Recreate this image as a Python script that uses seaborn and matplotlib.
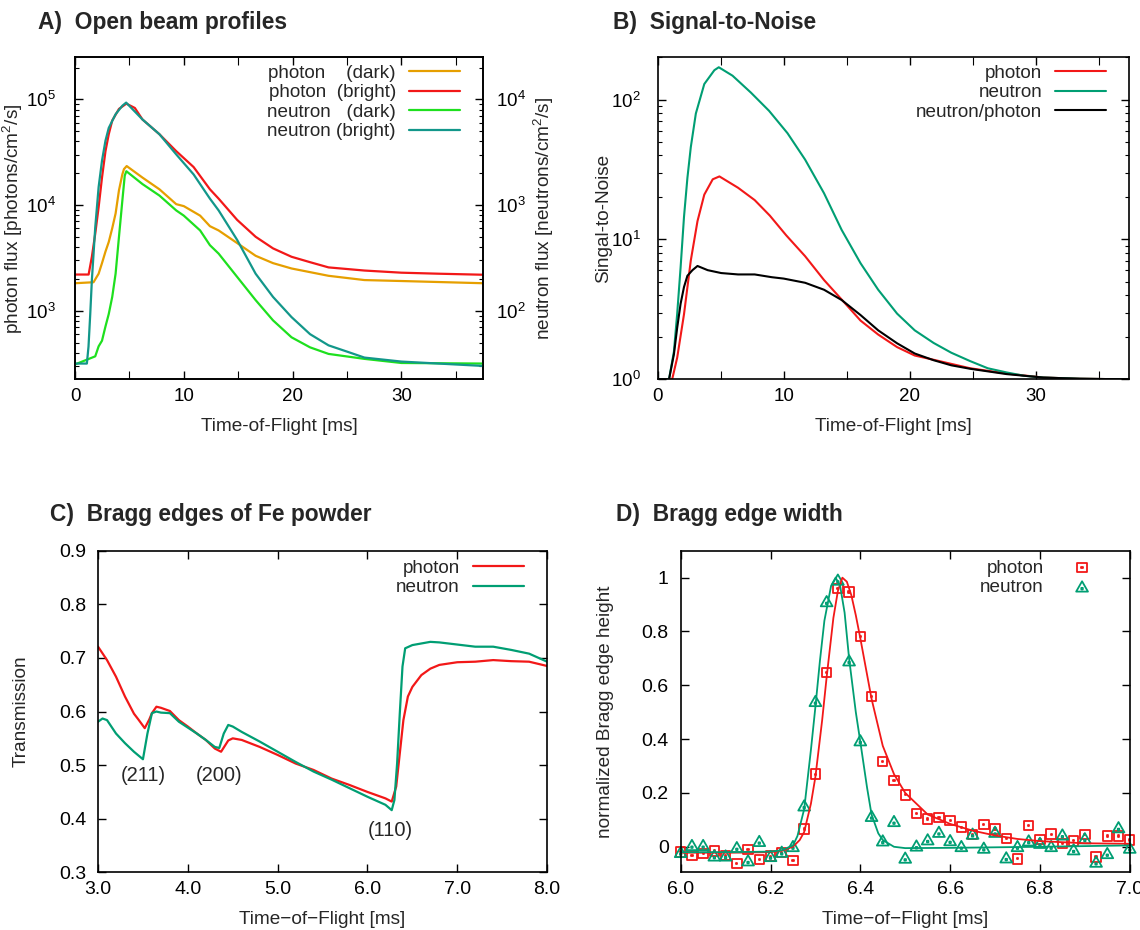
import numpy as np
import matplotlib
matplotlib.use("Agg")
import matplotlib.pyplot as plt
import seaborn as sns
from matplotlib.path import Path
from matplotlib.ticker import MultipleLocator, FormatStrFormatter, LogLocator, NullFormatter

# === A) open beam profiles (values read from the figure) ===
ph_bright_t = [0, 1.25, 1.55, 1.86, 2.17, 2.48, 2.8, 3.1, 3.42, 4.04, 4.72, 5.5, 6.2, 7.76, 9.3,
               10.9, 12.4, 13.2, 14.9, 16.6, 18.2, 19.9, 21.6, 23.3, 26.6, 30.0, 33.4, 37.5]
ph_bright = [2200, 2200, 3240, 5370, 9550, 18200, 32400, 46800, 63100, 81300, 91200, 83000, 64600,
             46800, 32400, 22900, 14100, 11500, 7240, 5010, 3890, 3240, 2880, 2570, 2400, 2290, 2240, 2190]

ph_dark_t = [0, 1.7, 2.17, 2.48, 2.8, 3.1, 3.42, 3.73, 4.04, 4.35, 4.5, 4.75, 6.2, 7.76, 9.3, 10.0,
             11.5, 12.4, 13.2, 14.9, 16.6, 18.2, 19.9, 23.3, 26.6, 30.0, 37.5]
ph_dark = [1820, 1860, 2240, 2820, 3630, 4470, 6030, 8320, 13800, 19500, 21900, 23400, 18200, 14100,
           10200, 9770, 7940, 6310, 5750, 4370, 3310, 2820, 2510, 2140, 1950, 1910, 1820]

nt_bright_t = [0, 1.09, 1.24, 1.40, 1.55, 1.86, 2.17, 2.48, 2.8, 3.1, 3.73, 4.35, 4.7, 6.2, 7.76, 9.3,
               10.9, 12.4, 13.2, 14.9, 16.6, 18.2, 19.9, 21.6, 23.3, 25.0, 26.6, 30.0, 33.4, 37.5]
nt_bright = [31.6, 31.6, 45.7, 93, 195, 617, 1480, 2630, 4070, 5370, 7240, 8710, 9330, 6460, 4680, 3020,
             1950, 1150, 890, 468, 224, 135, 87, 60, 47, 41, 36, 33, 31.6, 30]

nt_dark_t = [0, 1.86, 2.17, 2.48, 2.8, 3.1, 3.42, 3.73, 4.04, 4.35, 4.57, 4.72, 6.2, 7.76, 9.3, 10.0,
             11.5, 12.4, 13.2, 14.9, 16.6, 18.2, 19.9, 21.6, 23.3, 26.6, 30.0, 37.5]
nt_dark = [31, 37, 46, 52, 71, 93, 135, 224, 500, 1100, 1900, 2090, 1580, 1230, 890, 794,
           575, 417, 347, 209, 126, 81, 56, 45, 39, 35, 32, 31.6]

# === B) signal-to-noise ===
snr_ph_t = [0, 1.15, 1.55, 2.09, 2.63, 3.16, 3.7, 4.37, 4.9, 6.38, 7.7, 8.9, 10.2, 11.7, 13.2, 14.6,
            16.1, 17.5, 19.0, 20.4, 21.9, 24.8, 27.7, 30.6, 33.5, 37.5]
snr_ph = [1.0, 1.0, 1.43, 2.92, 7.08, 13.5, 20.9, 26.9, 28.2, 23.4, 19.1, 14.8, 10.7, 7.59, 5.13, 3.72,
          2.63, 2.09, 1.70, 1.48, 1.38, 1.20, 1.10, 1.03, 1.01, 1.0]

snr_nt_t = [0, 0.9, 1.29, 1.55, 1.82, 2.09, 2.36, 2.63, 3.03, 3.7, 4.5, 4.85, 5.94, 7.4, 8.84, 10.3,
            11.7, 13.2, 14.6, 16.1, 17.5, 19.0, 20.4, 21.9, 23.3, 24.8, 26.2, 27.7, 29.1, 30.6, 33.5, 37.5]
snr_nt = [1.0, 1.0, 1.58, 2.95, 6.31, 14.5, 27.5, 45.7, 79.4, 129, 162, 170, 148, 112, 83, 57.5,
          37.2, 21.4, 11.7, 6.76, 4.37, 2.95, 2.24, 1.82, 1.55, 1.35, 1.20, 1.12, 1.06, 1.03, 1.01, 1.0]

snr_ratio_t = [0, 0.9, 1.29, 1.55, 1.82, 2.09, 2.36, 2.76, 3.16, 3.97, 5.04, 6.38, 7.7, 9.06, 10.0,
               11.7, 13.2, 14.6, 16.1, 17.5, 19.0, 20.4, 21.9, 23.3, 24.8, 27.7, 30.6, 33.5, 37.5]
snr_ratio = [1.0, 1.0, 1.51, 2.34, 3.47, 4.57, 5.50, 6.03, 6.46, 6.03, 5.75, 5.62, 5.62, 5.37, 5.25,
             4.90, 4.37, 3.69, 2.88, 2.24, 1.81, 1.53, 1.37, 1.26, 1.19, 1.09, 1.03, 1.01, 1.0]

# === C) Bragg edges of Fe powder ===
tr_ph_t = [3.0, 3.1, 3.2, 3.3, 3.4, 3.45, 3.52, 3.57, 3.6, 3.65, 3.7, 3.8, 3.9, 4.0, 4.1, 4.2, 4.3,
           4.37, 4.45, 4.5, 4.6, 4.8, 5.0, 5.2, 5.4, 5.6, 5.8, 6.0, 6.2, 6.27, 6.32, 6.36, 6.4,
           6.45, 6.5, 6.6, 6.7, 6.8, 7.0, 7.2, 7.4, 7.6, 7.8, 8.0]
tr_ph = [0.721, 0.696, 0.665, 0.628, 0.596, 0.585, 0.569, 0.585, 0.597, 0.609, 0.607, 0.601, 0.584,
         0.572, 0.559, 0.547, 0.531, 0.525, 0.546, 0.550, 0.547, 0.534, 0.519, 0.503, 0.491, 0.475,
         0.463, 0.450, 0.438, 0.432, 0.460, 0.522, 0.584, 0.628, 0.646, 0.668, 0.680, 0.687, 0.692,
         0.693, 0.696, 0.694, 0.693, 0.685]

tr_nt_t = [3.0, 3.05, 3.1, 3.2, 3.3, 3.4, 3.5, 3.55, 3.6, 3.65, 3.7, 3.8, 3.9, 4.0, 4.1, 4.2, 4.3,
           4.35, 4.4, 4.45, 4.5, 4.6, 4.8, 5.0, 5.2, 5.4, 5.6, 5.8, 6.0, 6.2, 6.27, 6.3, 6.33, 6.36,
           6.39, 6.42, 6.5, 6.6, 6.7, 6.8, 7.0, 7.2, 7.4, 7.6, 7.8, 8.0]
tr_nt = [0.581, 0.587, 0.584, 0.559, 0.541, 0.525, 0.511, 0.559, 0.597, 0.600, 0.598, 0.597, 0.581,
         0.570, 0.559, 0.547, 0.534, 0.532, 0.559, 0.575, 0.572, 0.562, 0.544, 0.525, 0.506, 0.488,
         0.473, 0.457, 0.441, 0.426, 0.416, 0.435, 0.503, 0.597, 0.684, 0.718, 0.724, 0.727, 0.730,
         0.729, 0.725, 0.721, 0.721, 0.715, 0.708, 0.693]

edge_labels = ["(211)", "(200)", "(110)"]
edge_label_t = [3.50, 4.35, 6.25]
edge_label_y = [0.480, 0.480, 0.378]

# === D) Bragg edge width ===
bw_t = [6.0, 6.025, 6.05, 6.075, 6.1, 6.125, 6.15, 6.175, 6.2, 6.225, 6.25, 6.275, 6.3, 6.325, 6.35,
        6.375, 6.4, 6.425, 6.45, 6.475, 6.5, 6.525, 6.55, 6.575, 6.6, 6.625, 6.65, 6.675, 6.7, 6.725,
        6.75, 6.775, 6.8, 6.825, 6.85, 6.875, 6.9, 6.925, 6.95, 6.975, 7.0]
bw_ph = [-0.019, -0.033, -0.025, -0.015, -0.033, -0.062, -0.010, -0.047, -0.035, -0.022, -0.050,
         0.066, 0.270, 0.647, 0.960, 0.947, 0.782, 0.559, 0.316, 0.247, 0.193, 0.123, 0.103, 0.108,
         0.098, 0.073, 0.046, 0.083, 0.066, 0.031, -0.045, 0.078, 0.027, 0.047, 0.012, 0.022, 0.046,
         -0.038, 0.040, 0.040, 0.025]
bw_nt = [-0.022, 0.004, 0.004, -0.035, -0.035, -0.004, -0.053, 0.019, -0.037, -0.021, 0.0, 0.151,
         0.539, 0.910, 0.990, 0.690, 0.393, 0.112, 0.021, 0.093, -0.043, 0.002, 0.025, 0.053, 0.022,
         0.0, 0.046, -0.006, 0.053, -0.042, 0.0, 0.021, 0.012, 0.0, 0.043, -0.012, 0.029, -0.058,
         -0.026, 0.070, -0.006]

fit_ph_t = [6.0, 6.1, 6.2, 6.225, 6.25, 6.265, 6.275, 6.29, 6.3, 6.315, 6.325, 6.34, 6.35, 6.36, 6.37,
            6.38, 6.39, 6.4, 6.425, 6.45, 6.475, 6.5, 6.55, 6.6, 6.65, 6.7, 6.75, 6.8, 6.9, 7.0]
fit_ph = [-0.022, -0.022, -0.020, -0.014, 0.0, 0.025, 0.055, 0.16, 0.26, 0.47, 0.63, 0.85, 0.95, 1.0,
          0.985, 0.935, 0.86, 0.775, 0.55, 0.375, 0.27, 0.20, 0.12, 0.085, 0.06, 0.042, 0.029, 0.021,
          0.013, 0.011]
fit_nt_t = [6.0, 6.1, 6.2, 6.225, 6.25, 6.26, 6.275, 6.29, 6.3, 6.31, 6.32, 6.335, 6.345, 6.355, 6.365,
            6.375, 6.39, 6.4, 6.415, 6.425, 6.44, 6.45, 6.475, 6.5, 6.6, 6.8, 7.0]
fit_nt = [-0.020, -0.020, -0.018, -0.013, 0.005, 0.04, 0.14, 0.36, 0.52, 0.69, 0.84, 0.97, 1.0, 0.97,
          0.87, 0.70, 0.50, 0.39, 0.22, 0.12, 0.05, 0.025, 0.0, -0.005, -0.004, 0.0, 0.005]

# === style ===
sns.set_theme(style="ticks")
plt.rcParams['font.family'] = ['Liberation Sans', 'DejaVu Sans']
plt.rcParams['mathtext.fontset'] = 'custom'
plt.rcParams['mathtext.rm'] = 'Liberation Sans'
plt.rcParams['mathtext.it'] = 'Liberation Sans:italic'
plt.rcParams['mathtext.bf'] = 'Liberation Sans:bold'

RED = '#f21818'
ORANGE = '#e69f00'
LIME = '#1ee01e'
TEAL = '#009e73'
TEAL_A = '#12978a'
TICK_FS = 13.5
LABEL_FS = 13.7
LEG_FS = 13.6


def gnuplot_axes(ax, ypad, xpad=6, right=True):
    ax.tick_params(which='both', direction='in', top=True, right=right,
                   labelsize=TICK_FS, colors='black')
    ax.tick_params(axis='x', which='both', pad=xpad)
    ax.tick_params(axis='y', which='both', pad=ypad)
    ax.tick_params(which='major', length=6, width=1)
    ax.tick_params(which='minor', length=3, width=0.8)
    for s in ax.spines.values():
        s.set_linewidth(1.2)
        s.set_color('black')


def place_labels(ax, xlab, ylab, ylab_x):
    ax.set_xlabel(xlab, fontsize=LABEL_FS)
    ax.set_ylabel(ylab, fontsize=LABEL_FS)
    ax.xaxis.set_label_coords(0.5, -0.148)
    ax.xaxis.label.set_va('center')
    ax.yaxis.set_label_coords(ylab_x, 0.5)
    ax.yaxis.label.set_va('center')


def gp_legend(ax, handles, labels, xr, yt):
    ax.legend(handles, labels, loc='upper right', bbox_to_anchor=(xr, yt), markerfirst=False,
              frameon=False, fontsize=LEG_FS, handlelength=2.7, handletextpad=0.68,
              labelspacing=0.12, borderpad=0, borderaxespad=0)


fig = plt.figure(figsize=(11.4, 9.3), dpi=100)
axA = fig.add_axes([0.0658, 0.5921, 0.3579, 0.3462])
axB = fig.add_axes([0.5769, 0.5921, 0.4134, 0.3462])
axC = fig.add_axes([0.0860, 0.0620, 0.3939, 0.3458])
axD = fig.add_axes([0.5971, 0.0620, 0.3939, 0.3458])

# --- A ---
axA2 = axA.twinx()
sns.lineplot(x=ph_dark_t, y=ph_dark, ax=axA, color=ORANGE, lw=1.6, label="photon    (dark)",
             sort=False, estimator=None, legend=False)
sns.lineplot(x=ph_bright_t, y=ph_bright, ax=axA, color=RED, lw=1.6, label="photon  (bright)",
             sort=False, estimator=None, legend=False)
sns.lineplot(x=nt_dark_t, y=nt_dark, ax=axA2, color=LIME, lw=1.6, label="neutron   (dark)",
             sort=False, estimator=None, legend=False)
sns.lineplot(x=nt_bright_t, y=nt_bright, ax=axA2, color=TEAL_A, lw=1.6, label="neutron (bright)",
             sort=False, estimator=None, legend=False)
for ax, lim in ((axA, (224, 2.5e5)), (axA2, (22.4, 2.5e4))):
    ax.set_yscale('log')
    ax.set_ylim(*lim)
    ax.yaxis.set_major_locator(LogLocator(base=10))
    ax.yaxis.set_minor_locator(LogLocator(base=10, subs=np.arange(2, 10)))
    ax.yaxis.set_minor_formatter(NullFormatter())
axA.set_xlim(0, 37.5)
axA.xaxis.set_major_locator(MultipleLocator(10))
axA.xaxis.set_minor_locator(MultipleLocator(5))
gnuplot_axes(axA, ypad=14, right=False)
gnuplot_axes(axA2, ypad=9.5)
axA.tick_params(axis='x', which='minor', length=6)
place_labels(axA, "Time-of-Flight [ms]", "photon flux [photons/cm$^2$/s]", -0.152)
axA2.set_ylabel("neutron flux [neutrons/cm$^2$/s]", fontsize=LABEL_FS)
axA2.yaxis.set_label_coords(1.1485, 0.5)
axA2.yaxis.label.set_va('center')
h1, l1 = axA.get_legend_handles_labels()
h2, l2 = axA2.get_legend_handles_labels()
gp_legend(axA2, h1 + h2, l1 + l2, 0.943, 0.977)

# --- B ---
sns.lineplot(x=snr_ph_t, y=snr_ph, ax=axB, color=RED, lw=1.5, label="photon",
             sort=False, estimator=None, legend=False)
sns.lineplot(x=snr_nt_t, y=snr_nt, ax=axB, color=TEAL, lw=1.5, label="neutron",
             sort=False, estimator=None, legend=False)
sns.lineplot(x=snr_ratio_t, y=snr_ratio, ax=axB, color='black', lw=1.5, label="neutron/photon",
             sort=False, estimator=None, legend=False)
axB.set_yscale('log')
axB.set_ylim(1, 200)
axB.yaxis.set_major_locator(LogLocator(base=10))
axB.yaxis.set_minor_locator(LogLocator(base=10, subs=np.arange(2, 10)))
axB.yaxis.set_minor_formatter(NullFormatter())
axB.set_xlim(0, 37.4)
axB.xaxis.set_major_locator(MultipleLocator(10))
axB.xaxis.set_minor_locator(MultipleLocator(5))
gnuplot_axes(axB, ypad=12)
axB.tick_params(axis='x', which='minor', length=6)
place_labels(axB, "Time-of-Flight [ms]", "Singal-to-Noise", -0.114)
h, l = axB.get_legend_handles_labels()
gp_legend(axB, h, l, 0.952, 0.977)

# --- C ---
sns.lineplot(x=tr_ph_t, y=tr_ph, ax=axC, color=RED, lw=1.6, label="photon",
             sort=False, estimator=None, legend=False)
sns.lineplot(x=tr_nt_t, y=tr_nt, ax=axC, color=TEAL, lw=1.6, label="neutron",
             sort=False, estimator=None, legend=False)
for txt, tx, ty in zip(edge_labels, edge_label_t, edge_label_y):
    axC.text(tx, ty, txt, fontsize=14.5, ha='center', va='center')
axC.set_xlim(3.0, 8.0)
axC.set_ylim(0.3, 0.9)
axC.xaxis.set_major_locator(MultipleLocator(1.0))
axC.yaxis.set_major_locator(MultipleLocator(0.1))
axC.xaxis.set_major_formatter(FormatStrFormatter('%.1f'))
axC.yaxis.set_major_formatter(FormatStrFormatter('%.1f'))
gnuplot_axes(axC, ypad=8.6)
axC.tick_params(labelsize=14)
place_labels(axC, "Time\u2212of\u2212Flight [ms]", "Transmission", -0.172)
h, l = axC.get_legend_handles_labels()
gp_legend(axC, h, l, 0.948, 0.973)

# --- D ---
dot = 0.13
sq_verts = [(-1, -1), (1, -1), (1, 1), (-1, 1), (-1, -1),
            (-dot, -dot), (dot, -dot), (dot, dot), (-dot, dot), (-dot, -dot)]
tri_verts = [(0, 1.0), (-1.0, -0.75), (1.0, -0.75), (0, 1.0),
             (-dot, -0.25 - dot), (dot, -0.25 - dot), (dot, -0.25 + dot), (-dot, -0.25 + dot),
             (-dot, -0.25 - dot)]
codes5 = [Path.MOVETO, Path.LINETO, Path.LINETO, Path.LINETO, Path.CLOSEPOLY]
codes4 = [Path.MOVETO, Path.LINETO, Path.LINETO, Path.CLOSEPOLY]
sq_marker = Path(sq_verts, codes5 + codes5)
tri_marker = Path(tri_verts, codes4 + codes5)

sns.lineplot(x=fit_ph_t, y=fit_ph, ax=axD, color=RED, lw=1.3, sort=False, estimator=None, legend=False)
sns.lineplot(x=fit_nt_t, y=fit_nt, ax=axD, color=TEAL, lw=1.3, sort=False, estimator=None, legend=False)
sns.scatterplot(x=bw_t, y=bw_ph, ax=axD, marker=sq_marker, s=46, facecolor='none', edgecolor=RED,
                linewidth=1.3, label="photon", legend=False, clip_on=False)
sns.scatterplot(x=bw_t, y=bw_nt, ax=axD, marker=tri_marker, s=72, facecolor='none', edgecolor=TEAL,
                linewidth=1.3, label="neutron", legend=False, clip_on=False)
axD.set_xlim(6.0, 7.0)
axD.set_ylim(-0.095, 1.10)
axD.xaxis.set_major_locator(MultipleLocator(0.2))
axD.yaxis.set_major_locator(MultipleLocator(0.2))
axD.xaxis.set_major_formatter(FormatStrFormatter('%.1f'))
axD.yaxis.set_major_formatter(FormatStrFormatter('%g'))
gnuplot_axes(axD, ypad=8.6)
axD.tick_params(labelsize=14)
place_labels(axD, "Time\u2212of\u2212Flight [ms]", "normalized Bragg edge height", -0.168)
h, l = axD.get_legend_handles_labels()
gp_legend(axD, h, l, 0.9506, 0.973)

# --- panel titles ---
for tx, ty, title in ((38, 23, "A)  Open beam profiles"), (613, 23, "B)  Signal-to-Noise"),
                      (50, 515, "C)  Bragg edges of Fe powder"), (616, 515, "D)  Bragg edge width")):
    fig.text(tx / 1140, 1 - ty / 930, title, fontsize=16.4, fontweight='bold', ha='left', va='center')

fig.savefig("out.png", dpi=100, facecolor='white')
